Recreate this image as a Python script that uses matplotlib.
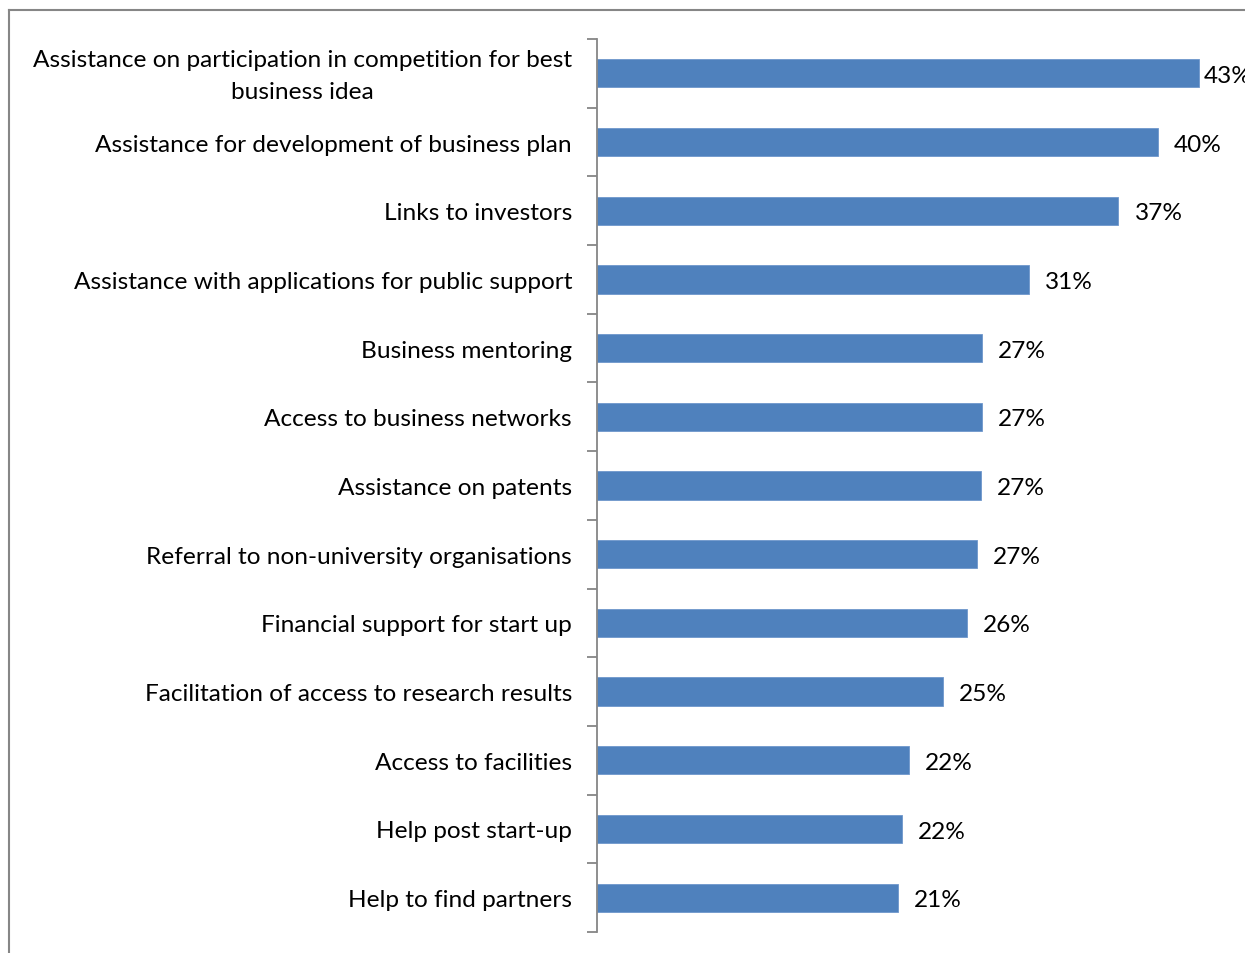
import matplotlib.pyplot as plt
from matplotlib.lines import Line2D
from matplotlib.transforms import ScaledTranslation

# -----------------------------------------------------------------------------
# Data (top to bottom as shown)
# -----------------------------------------------------------------------------
categories = [
    'Assistance on participation in competition for best\nbusiness idea',
    'Assistance for development of business plan',
    'Links to investors',
    'Assistance with applications for public support',
    'Business mentoring',
    'Access to business networks',
    'Assistance on patents',
    'Referral to non-university organisations',
    'Financial support for start up',
    'Facilitation of access to research results',
    'Access to facilities',
    'Help post start-up',
    'Help to find partners',
]
values = [42.8, 39.9, 37.1, 30.7, 27.4, 27.4, 27.3, 27.0, 26.3, 24.6, 22.2, 21.7, 21.4]

# -----------------------------------------------------------------------------
# Plot
# -----------------------------------------------------------------------------
plt.rcParams['font.family'] = ['Lato', 'DejaVu Sans']
bar_color = '#4F81BD'
axis_grey = '#868686'
fs = 17.6

fig = plt.figure(figsize=(12.45, 9.54), dpi=100)
ax = fig.add_axes([597 / 1245, 1 - 933 / 954, 648 / 1245, 893 / 954])

n = len(categories)
ypos = list(range(n))
ax.barh(ypos, values, height=0.41, color=bar_color, edgecolor='#6F97CC', linewidth=0.6)

# value labels; the longest one is pushed in against the plot edge like excel does
for y, v in zip(ypos, values):
    ax.text(min(v + 1.15, 43.2), y + 0.03, '%d%%' % round(v), va='center', ha='left',
            fontsize=fs, color='black')

ax.set_xlim(0, 46.1)
ax.set_ylim(n - 0.5, -0.5)

# category labels at bar centres, tick marks on the boundaries
ax.set_yticks(ypos)
ax.set_yticklabels(categories, fontsize=fs, multialignment='center', linespacing=1.65)
ax.tick_params(axis='y', which='major', length=0, pad=18)
ax.set_yticks([i - 0.5 for i in range(n + 1)], minor=True)
ax.tick_params(axis='y', which='minor', length=7, width=1.3, color=axis_grey, direction='out')

# two-line label sits a bit higher in the original
lbl = ax.get_yticklabels()[0]
lbl.set_transform(lbl.get_transform() + ScaledTranslation(0, 5 / 100, fig.dpi_scale_trans))

ax.set_xticks([])
for s in ['top', 'right', 'bottom']:
    ax.spines[s].set_visible(False)
ax.spines['left'].set_color(axis_grey)
ax.spines['left'].set_linewidth(1.3)

# chart area border (partially cropped in the original)
fig.add_artist(Line2D([9 / 1245, 9 / 1245], [0, 1 - 11 / 954], transform=fig.transFigure,
                      color=axis_grey, linewidth=1.5))
fig.add_artist(Line2D([9 / 1245, 1], [1 - 11 / 954, 1 - 11 / 954], transform=fig.transFigure,
                      color=axis_grey, linewidth=1.5))

fig.savefig('out.png', dpi=100)
